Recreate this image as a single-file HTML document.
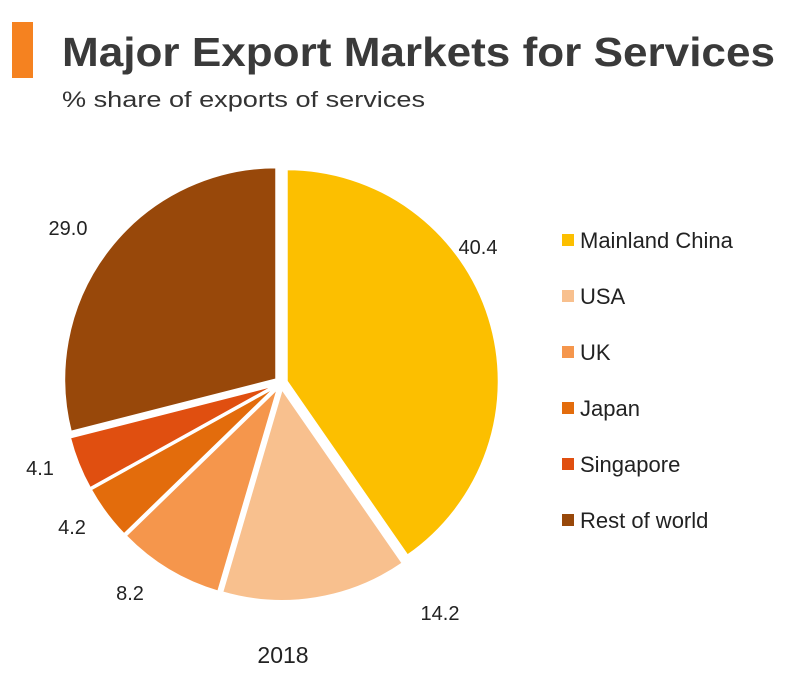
<!DOCTYPE html>
<html><head><meta charset="utf-8"><style>
body{margin:0;background:#fff;font-family:"Liberation Sans",sans-serif;}
</style></head><body>
<svg width="800" height="684" viewBox="0 0 800 684">
<rect x="12" y="22" width="21" height="56" fill="#F58220"/>
<text x="62" y="66" font-size="41" font-weight="bold" fill="#3a3a3a" textLength="713" lengthAdjust="spacingAndGlyphs">Major Export Markets for Services</text>
<text x="62" y="107" font-size="22" fill="#333" textLength="363" lengthAdjust="spacingAndGlyphs">% share of exports of services</text>
<g id="pie"></g>
<g id="legend"></g>
<text x="283" y="663" font-size="23" text-anchor="middle" fill="#222">2018</text>
</svg>
<script>
const categories=["Mainland China","USA","UK","Japan","Singapore","Rest of world"];
const values=[40.4,14.2,8.2,4.2,4.1,29.0];
const valueLabels=["40.4","14.2","8.2","4.2","4.1","29.0"];
const colors=["#FCBF00","#F8C08E","#F5964C","#E36C0C","#E04F10","#98480A"];
const NS="http://www.w3.org/2000/svg";
const cx=281,cy=383,R=212,explode=6;
const total=values.reduce((a,b)=>a+b,0);
const pie=document.getElementById('pie');
const labelPos=[[478,254],[440,620],[130,600],[72,534],[40,475],[68,235]];
let a0=0;
values.forEach((v,i)=>{
  const a1=a0+v/total*2*Math.PI;
  const mid=(a0+a1)/2;
  const dx=Math.sin(mid)*explode,dy=-Math.cos(mid)*explode;
  const x0=cx+dx+R*Math.sin(a0),y0=cy+dy-R*Math.cos(a0);
  const x1=cx+dx+R*Math.sin(a1),y1=cy+dy-R*Math.cos(a1);
  const p=document.createElementNS(NS,'path');
  p.setAttribute('d',`M${cx+dx},${cy+dy}L${x0},${y0}A${R},${R} 0 ${a1-a0>Math.PI?1:0} 1 ${x1},${y1}Z`);
  p.setAttribute('fill',colors[i]);p.setAttribute('stroke','#fff');p.setAttribute('stroke-width','2');
  
  
  pie.appendChild(p);
  const t=document.createElementNS(NS,'text');
  t.setAttribute('x',labelPos[i][0]);t.setAttribute('y',labelPos[i][1]);
  t.setAttribute('text-anchor','middle');t.setAttribute('font-size','20');t.setAttribute('fill','#222');
  t.textContent=valueLabels[i];
  
  
  pie.appendChild(t);
  a0=a1;
});
const lg=document.getElementById('legend');
categories.forEach((c,i)=>{
  const y=240+i*56;
  const r=document.createElementNS(NS,'rect');
  r.setAttribute('x',562);r.setAttribute('y',y-6);r.setAttribute('width',12);r.setAttribute('height',12);r.setAttribute('fill',colors[i]);
  
  
  lg.appendChild(r);
  const t=document.createElementNS(NS,'text');
  t.setAttribute('x',580);t.setAttribute('y',y+8);t.setAttribute('font-size','22');t.setAttribute('fill','#222');
  t.textContent=c;
  
  
  lg.appendChild(t);
});
</script>
</body></html>
